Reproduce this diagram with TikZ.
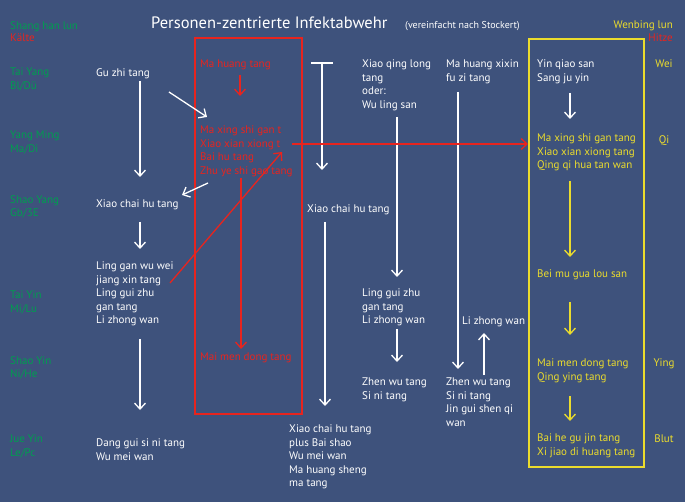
\documentclass[tikz,border=0pt]{standalone}
\usepackage{fontspec}
\setmainfont{PT Sans}
\usetikzlibrary{arrows.meta}
\definecolor{bg}{RGB}{62,82,124}
\definecolor{tgreen}{RGB}{0,158,80}
\definecolor{tred}{RGB}{232,36,30}
\definecolor{tyellow}{RGB}{235,220,45}
\begin{document}
\begin{tikzpicture}[x=1pt,y=-1pt,
  txt/.style={anchor=north west, inner sep=0pt, align=left, font=\fontsize{11}{13.5}\selectfont, text=white},
  grn/.style={txt, text=tgreen},
  rtxt/.style={txt, text=tred},
  ytxt/.style={txt, text=tyellow},
  arr/.style={line width=1.3pt, -{Straight Barb[length=6pt,width=11pt,line width=1.3pt]}},
  warr/.style={arr, draw=white},
  rarr/.style={arr, draw=tred},
  yarr/.style={arr, draw=tyellow}]
\useasboundingbox[fill=bg] (0,0) rectangle (685,502);

% title
\node[anchor=base west, inner sep=0pt, text=white, font=\fontsize{16.5}{18}\selectfont] (title) at (151,29) {Personen-zentrierte Infektabwehr};
\node[anchor=base west, inner sep=0pt, text=white, font=\fontsize{10}{11}\selectfont] (sub) at (405,29) {(vereinfacht nach Stockert)};

% left header
\node[grn] (shl) at (10,21) {Shang han lun};
\node[rtxt] (kaelte) at (10,34) {Kälte};
\node[ytxt, anchor=north east] (wbl) at (673,21) {Wenbing lun};
\node[rtxt, anchor=north east] (hitze) at (673,34) {Hitze};

% row labels
\node[grn] (r1) at (10,68) {Tai Yang\\Bl/Dü};
\node[grn] (r2) at (10,131) {Yang Ming\\Ma/Di};
\node[grn] (r3) at (10,195) {Shao Yang\\Gb/3E};
\node[grn] (r4) at (10,291) {Tai Yin\\Mi/Lu};
\node[grn] (r5) at (10,356) {Shao Yin\\Ni/He};
\node[grn] (r6) at (10,435) {Jue Yin\\Le/Pc};

% boxes
\draw[tred, line width=1.5pt] (195,38) rectangle (302,414);
\draw[tyellow, line width=1.5pt] (529,39) rectangle (644,467);

% column 1
\node[txt] (guzhi) at (96,68) {Gu zhi tang};
\node[txt] (xch1) at (96,200) {Xiao chai hu tang};
\node[txt] (ling) at (96,262) {Ling gan wu wei\\jiang xin tang\\Ling gui zhu\\gan tang\\Li zhong wan};
\node[txt] (dang) at (96,439) {Dang gui si ni tang\\Wu mei wan};

% red column
\node[rtxt] (mht) at (200,60) {Ma huang tang};
\node[rtxt] (mxs) at (200,126) {Ma xing shi gan t\\Xiao xian xiong t\\Bai hu tang\\Zhu ye shi gao tang};
\node[rtxt] (mmd) at (200,353) {Mai men dong tang};

% column 2
\node[txt] (xch2) at (307,205) {Xiao chai hu tang};
\node[txt] (xch3) at (289,425) {Xiao chai hu tang\\plus Bai shao\\Wu mei wan\\Ma huang sheng\\ma tang};

% column 3
\node[txt] (xql) at (362,60) {Xiao qing long\\tang\\oder:\\Wu ling san};
\node[txt] (lgz) at (362,289) {Ling gui zhu\\gan tang\\Li zhong wan};
\node[txt] (zw1) at (362,378) {Zhen wu tang\\Si ni tang};

% column 4
\node[txt] (mhx) at (446,60) {Ma huang xixin\\fu zi tang};
\node[txt] (lzw) at (462,317) {Li zhong wan};
\node[txt] (zw2) at (446,378) {Zhen wu tang\\Si ni tang\\Jin gui shen qi\\wan};

% yellow column
\node[txt] (yqs) at (537,60) {Yin qiao san\\Sang ju yin};
\node[ytxt] (ymx) at (537,134) {Ma xing shi gan tang\\Xiao xian xiong tang\\Qing qi hua tan wan};
\node[ytxt] (bmg) at (537,270) {Bei mu gua lou san};
\node[ytxt] (ymm) at (537,359) {Mai men dong tang\\Qing ying tang};
\node[ytxt] (bhg) at (537,434) {Bai he gu jin tang\\Xi jiao di huang tang};

% right labels
\node[ytxt, anchor=north] (wei) at (664,60) {Wei};
\node[ytxt, anchor=north] (qi) at (664,135) {Qi};
\node[ytxt, anchor=north] (ying) at (664,359) {Ying};
\node[ytxt, anchor=north] (blut) at (664,435) {Blut};

% coordinates
\coordinate (a1s) at (140,81);  \coordinate (a1e) at (140,177);
\coordinate (a2s) at (169,92);  \coordinate (a2e) at (207,117);
\coordinate (a3s) at (208,183); \coordinate (a3e) at (182,195);
\coordinate (a4s) at (140,222); \coordinate (a4e) at (140,249);
\coordinate (a5s) at (140,339); \coordinate (a5e) at (140,410);
\coordinate (tl) at (311,63); \coordinate (tr) at (333,63);
\coordinate (ts) at (322,63); \coordinate (te) at (322,170);
\coordinate (b1s) at (325,222); \coordinate (b1e) at (325,406);
\coordinate (c1s) at (397,117); \coordinate (c1e) at (397,277);
\coordinate (c2s) at (397,329); \coordinate (c2e) at (397,362);
\coordinate (d1s) at (458,92);  \coordinate (d1e) at (458,369);
\coordinate (d2s) at (484,375); \coordinate (d2e) at (484,333);
\coordinate (y0s) at (570,93);  \coordinate (y0e) at (570,119);
\coordinate (y1s) at (570,181); \coordinate (y1e) at (570,257);
\coordinate (y2s) at (570,302); \coordinate (y2e) at (570,335);
\coordinate (y3s) at (570,396); \coordinate (y3e) at (570,421);
\coordinate (r1s) at (240,75);  \coordinate (r1e) at (240,96);
\coordinate (r2s) at (170,283); \coordinate (r2e) at (282,152);
\coordinate (r3s) at (241,178); \coordinate (r3e) at (241,349);
\coordinate (r4s) at (292,144); \coordinate (r4e) at (528,144);

% white arrows
\draw[warr] (a1s) -- (a1e);
\draw[warr] (a2s) -- (a2e);
\draw[warr] (a3s) -- (a3e);
\draw[warr] (a4s) -- (a4e);
\draw[warr] (a5s) -- (a5e);
\draw[white, line width=1.3pt] (tl) -- (tr);
\draw[warr] (ts) -- (te);
\draw[warr] (b1s) -- (b1e);
\draw[warr] (c1s) -- (c1e);
\draw[warr] (c2s) -- (c2e);
\draw[warr] (d1s) -- (d1e);
\draw[warr] (d2s) -- (d2e);
\draw[warr] (y0s) -- (y0e);
% yellow arrows
\draw[yarr] (y1s) -- (y1e);
\draw[yarr] (y2s) -- (y2e);
\draw[yarr] (y3s) -- (y3e);
% red arrows
\draw[rarr] (r1s) -- (r1e);
\draw[rarr] (r2s) -- (r2e);
\draw[rarr] (r3s) -- (r3e);
\draw[rarr] (r4s) -- (r4e);
\end{tikzpicture}
\end{document}
